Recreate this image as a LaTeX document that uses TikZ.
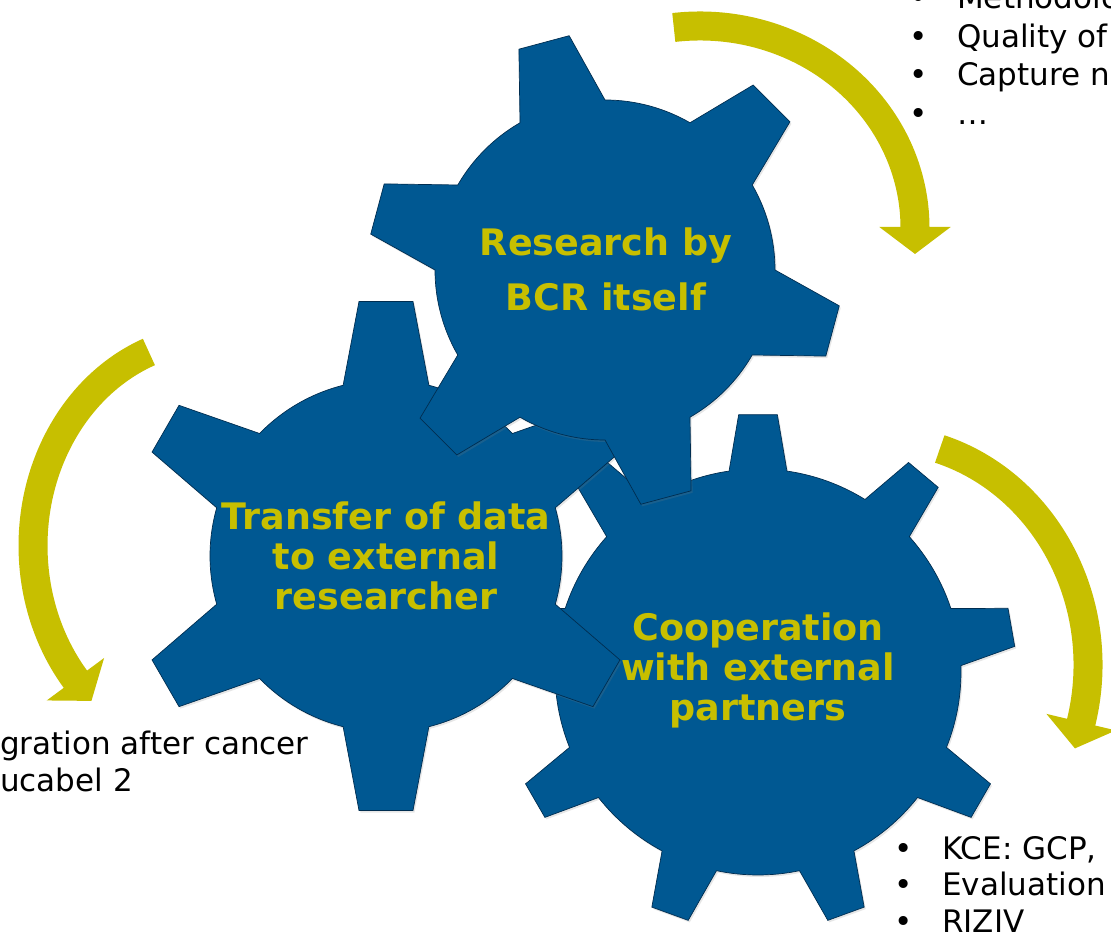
\documentclass[tikz,border=0pt]{standalone}
\usepackage{fontspec}
\setmainfont{DejaVu Sans}
\usetikzlibrary{arrows.meta,shadows}

\definecolor{gearblue}{RGB}{0,88,146}
\definecolor{gearedge}{RGB}{0,45,80}
\definecolor{bcryellow}{RGB}{199,191,0}

\tikzset{
  gear/.style={fill=gearblue,draw=gearedge,line width=0.7pt,line join=miter,
    drop shadow={opacity=0.2,shadow xshift=1.5pt,shadow yshift=-2pt}},
  geartext/.style={text=bcryellow,align=center,inner sep=0pt,font=\fontsize{36.5}{40}\selectfont\bfseries},
  turn/.style={draw=bcryellow,line width=29pt,-{Triangle[width=70pt,length=27pt]}},
  list/.style={anchor=base west,inner sep=0pt,font=\fontsize{31}{37}\selectfont}
}

\newcommand{\cogwheel}[8]{%
  \pgfmathsetmacro{\cogstep}{360/#3}%
  \draw[gear,shift={(#1,#2)}] (#4-#7:#5)
    \foreach \k in {1,...,#3}{
      -- ({#4+(\k-1)*\cogstep-#8}:#6) -- ({#4+(\k-1)*\cogstep+#8}:#6)
      -- ({#4+(\k-1)*\cogstep+#7}:#5)
      arc[start angle={#4+(\k-1)*\cogstep+#7},end angle={#4+\k*\cogstep-#7},radius=#5]
    } -- cycle;}
\newcommand{\pointitem}[1]{\makebox[48pt][l]{•}#1}

\begin{document}
\begin{tikzpicture}[x=1pt,y=1pt]
	\useasboundingbox (0,0) rectangle (1111,933);
	\clip (0,0) rectangle (1111,933);
	\coordinate (tailA) at (673.8,905.5);
	\coordinate (tailB) at (148.9,581);
	\coordinate (tailC) at (939.75,484);
	\draw[turn] (tailA) arc[start angle=97,end angle=0,x radius=215,y radius=202] -- ++(-90:26);
	\draw[turn] (tailB) arc[start angle=111.3,end angle=220.2,x radius=182,y radius=208] -- ++(-53.5:26);
	\draw[turn] (tailC) arc[start angle=72.9,end angle=-14.4,x radius=210,y radius=226] -- ++(-103.4:28);
	\cogwheel{758}{261}{9}{90}{203}{258}{8.2}{4.3}
	\cogwheel{386}{377}{6}{90}{176}{256}{14.1}{6.05}
	\cogwheel{605}{663}{6}{105}{170}{237}{15}{6.3}
	\node[geartext] (coop) at (758,263) {Cooperation\\with external\\partners};
	\node[geartext] (transfer) at (386,377) {Transfer of data\\to external\\researcher};
	\node[geartext,font=\fontsize{36.5}{55}\selectfont\bfseries] (research) at (606,663.5) {Research by\\BCR itself};
	\node[list] (meth) at (909,924) {\pointitem{Methodolo}};
	\node[list] (qual) at (909,885.5) {\pointitem{Quality of}};
	\node[list] (capt) at (909,847) {\pointitem{Capture n}};
	\node[list] (etc) at (909,808.5) {\pointitem{…}};
	\node[list] (kce) at (894,73) {\pointitem{KCE: GCP,}};
	\node[list] (eval) at (894,37) {\pointitem{Evaluation}};
	\node[list] (riziv) at (894,0) {\pointitem{RIZIV}};
	\node[list] (regr) at (0,178) {gration after cancer};
	\node[list] (educ) at (0,141) {ucabel 2};
\end{tikzpicture}
\end{document}
